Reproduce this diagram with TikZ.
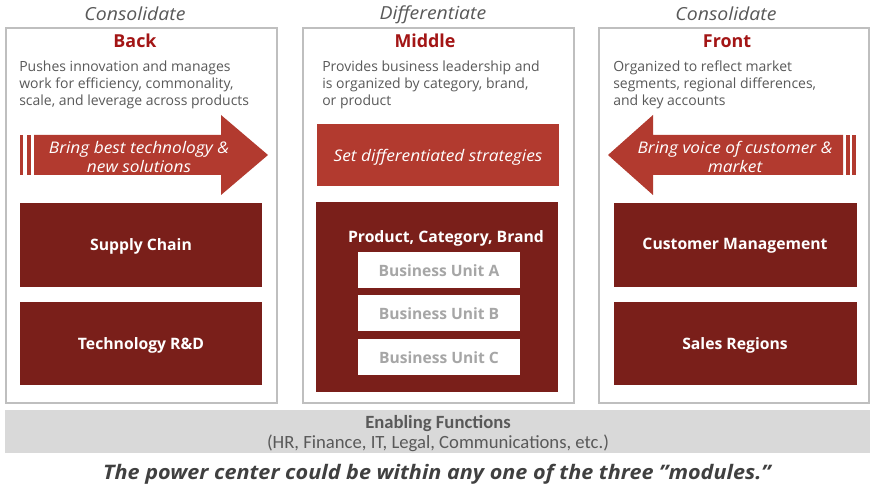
\documentclass[tikz,border=0pt]{standalone}
\usepackage{fontspec}
\setmainfont{Open Sans}
\newfontfamily\widefont[FakeStretch=1.08]{Open Sans}
\newfontfamily\calfont{Carlito}
\definecolor{boxred}{HTML}{7A1F1A}
\definecolor{arrowred}{HTML}{B23A2F}
\definecolor{headred}{HTML}{A31515}
\definecolor{txtgray}{HTML}{595959}
\definecolor{edgegray}{HTML}{BFBFBF}
\definecolor{bargray}{HTML}{D9D9D9}
\definecolor{unitgray}{HTML}{A6A6A6}
\definecolor{capgray}{HTML}{404040}
\tikzset{
  panel/.style={draw=edgegray, line width=1.2pt, fill=white},
  modtitle/.style={font=\widefont\fontsize{13.5}{15}\selectfont\itshape, text=txtgray, inner sep=0pt},
  modname/.style={font=\fontsize{13.4}{15}\selectfont\bfseries, text=headred, inner sep=0pt},
  desc/.style={font=\fontsize{10.5}{12.75}\selectfont, text=txtgray, align=left, inner sep=0pt, anchor=north west},
  unitlabel/.style={font=\fontsize{11.8}{13}\selectfont\bfseries, text=white, inner sep=0pt},
  arrowtext/.style={font=\widefont\fontsize{12}{14.2}\selectfont\itshape, text=white, align=center, inner sep=0pt},
  bulabel/.style={font=\fontsize{11.7}{13}\selectfont\bfseries, text=unitgray, inner sep=0pt},
}
\begin{document}
\begin{tikzpicture}[x=0.75pt, y=-0.75pt]
\useasboundingbox (0,0) rectangle (872,484);
\fill[white] (0,0) rectangle (872,484);

% module panels
\draw[panel] (6,28) rectangle (277,403);
\draw[panel] (303,28) rectangle (574,403);
\draw[panel] (599,28) rectangle (869,403);

% module headings
\node[modtitle] (tback) at (135,14) {Consolidate};
\node[modtitle] (tmid) at (433,15) {Differentiate};
\node[modtitle] (tfront) at (726,14) {Consolidate};

\node[modname] (nback) at (135,41) {Back};
\node[modname] (nmid) at (425,41) {Middle};
\node[modname] (nfront) at (727,41) {Front};

% descriptions
\node[desc] (dback) at (19,61) {Pushes innovation and manages\\work for efficiency, commonality,\\scale, and leverage across products};
\node[desc] (dmid) at (322,61) {Provides business leadership and\\is organized by category, brand,\\or product};
\node[desc] (dfront) at (613,61) {Organized to reflect market\\segments, regional differences,\\and key accounts};

% back arrow (pointing right)
\fill[arrowred] (19.5,135) rectangle (22.5,175);
\fill[arrowred] (26.5,135) rectangle (30.5,175);
\fill[arrowred] (34,135) -- (221,135) -- (221,115) -- (268,155) -- (221,195) -- (221,175) -- (34,175) -- cycle;
\node[arrowtext] (aback) at (139,157) {Bring best technology \&\\new solutions};

% front arrow (pointing left)
\fill[arrowred] (846,135) rectangle (849.5,175);
\fill[arrowred] (852,135) rectangle (855.5,175);
\fill[arrowred] (843,135) -- (653,135) -- (653,115) -- (608,155) -- (653,195) -- (653,175) -- (843,175) -- cycle;
\node[arrowtext] (afront) at (735,157) {Bring voice of customer \&\\market};

% middle strategy box
\fill[arrowred] (317,124) rectangle (559,186);
\node[arrowtext] (smid) at (438,157) {Set differentiated strategies};

% back units
\fill[boxred] (20,203) rectangle (262,287);
\node[unitlabel] (supply) at (141,246) {Supply Chain};
\fill[boxred] (20,302) rectangle (262,385);
\node[unitlabel] (tech) at (141,345) {Technology R\&D};

% front units
\fill[boxred] (614,203) rectangle (857,287);
\node[unitlabel] (cust) at (735,246) {Customer Management};
\fill[boxred] (614,302) rectangle (857,385);
\node[unitlabel] (sales) at (735,345) {Sales Regions};

% middle units
\fill[boxred] (316,202) rectangle (558,392);
\node[unitlabel] (pcb) at (446,238) {Product, Category, Brand};
\fill[white] (358,252) rectangle (520,288);
\node[bulabel] (bua) at (439,271) {Business Unit A};
\fill[white] (358,295) rectangle (520,331);
\node[bulabel] (bub) at (439,314) {Business Unit B};
\fill[white] (358,339) rectangle (520,375);
\node[bulabel] (buc) at (439,358) {Business Unit C};

% enabling functions bar
\fill[bargray] (5,410) rectangle (870,453);
\node[font=\calfont\fontsize{14}{16}\selectfont\bfseries, text=txtgray, inner sep=0pt] (enab) at (438,424) {Enabling Functions};
\node[font=\calfont\fontsize{14}{16}\selectfont, text=txtgray, inner sep=0pt] (enabsub) at (438,443) {(HR, Finance, IT, Legal, Communications, etc.)};

% caption
\node[font=\widefont\fontsize{15}{17}\selectfont\bfseries\itshape, text=capgray, inner sep=0pt] (cap) at (437,474) {The power center could be within any one of the three ”modules.”};
\end{tikzpicture}
\end{document}
